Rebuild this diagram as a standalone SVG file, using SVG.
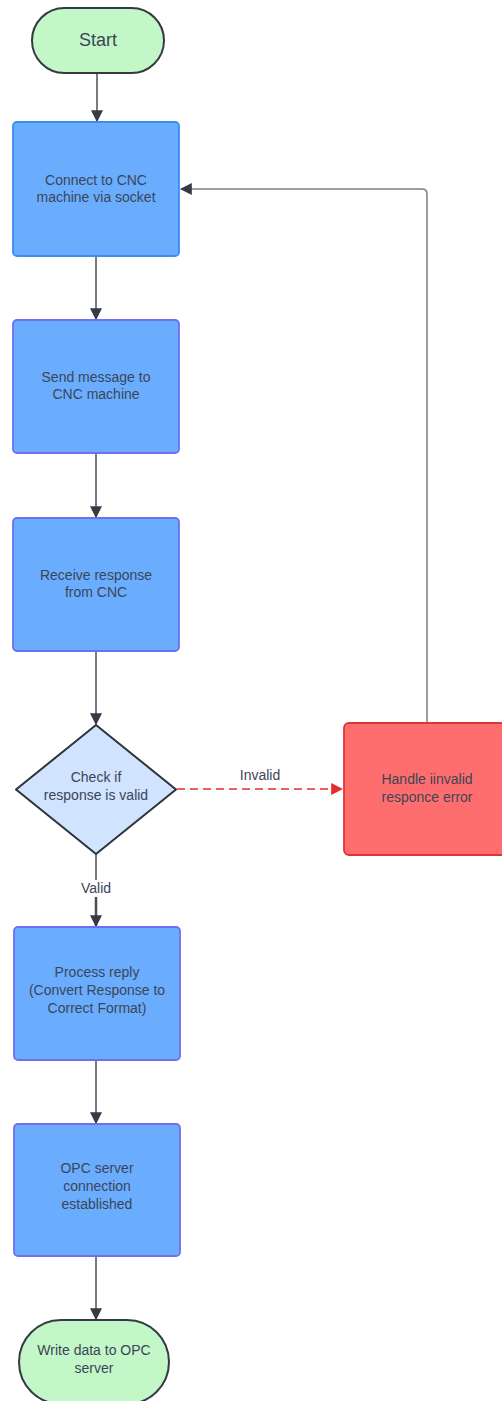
<svg xmlns="http://www.w3.org/2000/svg" width="502" height="1401" viewBox="0 0 502 1401">
<style>
.t{font-family:"Liberation Sans",Arial,sans-serif;font-size:14px;fill:#3b4556;text-anchor:middle}
.term{fill:#c3f7c8;stroke:#333a40;stroke-width:2}
.proc{fill:#6aadfe;stroke:#6f6ff0;stroke-width:1.8}
.conn{fill:none;stroke:#4a4f58;stroke-width:1.5}
</style>
<defs>
<marker id="ahl" viewBox="0 0 10 10" refX="9" refY="5" markerWidth="12" markerHeight="12" markerUnits="userSpaceOnUse" orient="auto"><path d="M0,0 L10,5 L0,10 z" fill="#353b44"/></marker>
<marker id="ahr" viewBox="0 0 10 10" refX="9" refY="5" markerWidth="12" markerHeight="12" markerUnits="userSpaceOnUse" orient="auto"><path d="M0,0 L10,5 L0,10 z" fill="#e52b2b"/></marker>
</defs>
<g id="connectors">
<path class="conn" d="M97,73 V121" marker-end="url(#ahl)"/>
<path class="conn" d="M96,256 V319" marker-end="url(#ahl)"/>
<path class="conn" d="M96,453 V517" marker-end="url(#ahl)"/>
<path class="conn" d="M96,651 V724" marker-end="url(#ahl)"/>
<path class="conn" d="M96,854 V880"/>
<path d="M96,897 V926" fill="none" stroke="#4a4f58" stroke-width="2.5" marker-end="url(#ahl)"/>
<path class="conn" d="M96,1060 V1123" marker-end="url(#ahl)"/>
<path class="conn" d="M96,1256 V1319" marker-end="url(#ahl)"/>
<path d="M427,723 V194 Q427,189 422,189 H181" fill="none" stroke="#7d7d7d" stroke-width="1.5" marker-end="url(#ahl)"/>
<path d="M177,789 H342" fill="none" stroke="#e52b2b" stroke-width="1.5" stroke-dasharray="8,5" marker-end="url(#ahr)"/>
<text class="t" x="96" y="893">Valid</text>
<text class="t" x="260" y="780">Invalid</text>
</g>
<g id="start">
<rect class="term" x="32" y="8" width="132" height="65" rx="32.5"/>
<text class="t" x="98" y="46" style="font-size:18px">Start</text>
</g>
<g id="connect">
<rect x="13" y="122" width="166" height="134" rx="4" fill="#6aadfe" stroke="#3d8cf0" stroke-width="1.8"/>
<text class="t" x="96" y="185">Connect to CNC</text>
<text class="t" x="96" y="202">machine via socket</text>
</g>
<g id="send">
<rect class="proc" x="13" y="320" width="166" height="133" rx="4"/>
<text class="t" x="96" y="382">Send message to</text>
<text class="t" x="96" y="399">CNC machine</text>
</g>
<g id="receive">
<rect class="proc" x="13" y="518" width="166" height="133" rx="4"/>
<text class="t" x="96" y="580">Receive response</text>
<text class="t" x="96" y="597">from CNC</text>
</g>
<g id="check">
<path d="M96,725 L176,789.5 L96,854 L16,789.5 Z" fill="#d0e3ff" stroke="#2e333a" stroke-width="2" stroke-linejoin="round"/>
<text class="t" x="96" y="782">Check if</text>
<text class="t" x="96" y="800">response is valid</text>
</g>
<g id="handle">
<rect x="344" y="723" width="162" height="132" rx="5" fill="#ff6e6e" stroke="#e03333" stroke-width="1.8"/>
<text class="t" x="427" y="784">Handle iinvalid</text>
<text class="t" x="427" y="802">responce error</text>
</g>
<g id="process">
<rect class="proc" x="14" y="927" width="166" height="133" rx="4"/>
<text class="t" x="97" y="977">Process reply</text>
<text class="t" x="97" y="995">(Convert Response to</text>
<text class="t" x="97" y="1013">Correct Format)</text>
</g>
<g id="opc">
<rect class="proc" x="14" y="1124" width="166" height="132" rx="4"/>
<text class="t" x="97" y="1173">OPC server</text>
<text class="t" x="97" y="1191">connection</text>
<text class="t" x="97" y="1209">established</text>
</g>
<g id="write">
<rect class="term" x="19" y="1320" width="150" height="84" rx="42"/>
<text class="t" x="94" y="1355">Write data to OPC</text>
<text class="t" x="94" y="1373">server</text>
</g>
</svg>
